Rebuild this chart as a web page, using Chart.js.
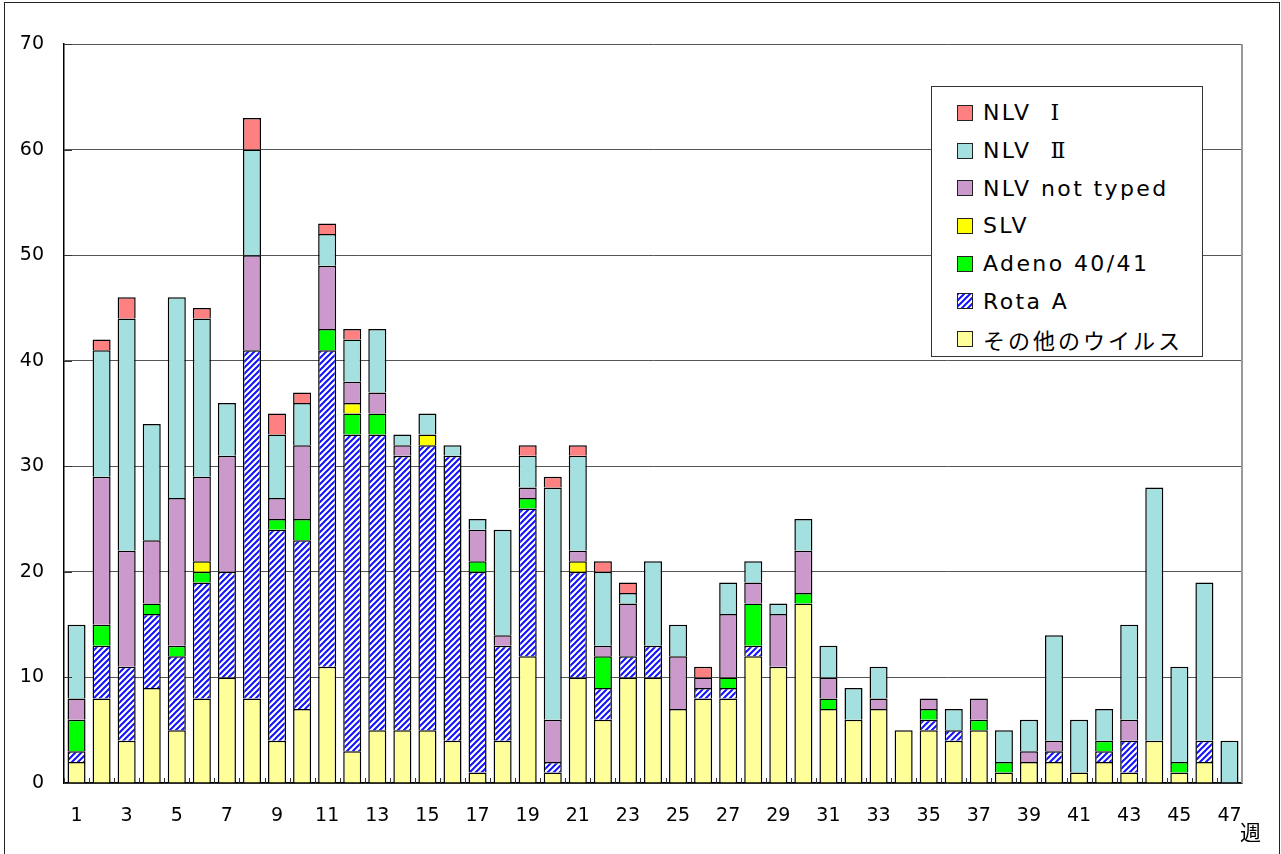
<!DOCTYPE html>
<html>
<head>
<meta charset="utf-8">
<script src="https://cdn.jsdelivr.net/npm/chart.js@4"></script>
<style>
  html, body { margin: 0; padding: 0; background: #fff; }
  #wrap { position: relative; width: 1281px; height: 854px; overflow: hidden; }
  #frame { position: absolute; left: 4px; top: 2px; width: 1276px; height: 880px; border: 1px solid #222; box-sizing: border-box; }
  #graph { position: absolute; left: 0; top: 0; }
  #legend { position: absolute; left: 931px; top: 86px; width: 272px; height: 271px; border: 1px solid #333;
            background: #fff; box-sizing: border-box; padding-top: 7px; }
  .row { height: 37.7px; display: flex; align-items: center; padding-left: 25px; }
  .sw { width: 14px; height: 14px; border: 1px solid #222; margin-right: 10px; flex: none; }
  .lbl { font: 22px "DejaVu Sans", sans-serif; letter-spacing: 2.4px; color: #000; white-space: nowrap; }
  .jp { font-family: "Noto Sans CJK JP", sans-serif; letter-spacing: 3px; }
  .num { font-family: "DejaVu Serif", serif; letter-spacing: 0; margin-left: 19px; }
  #unit { position: absolute; left: 1240px; top: 816px; font: 21px "Noto Sans CJK JP", sans-serif; color: #000; }
</style>
</head>
<body>
<div id="wrap">
  <div id="frame"></div>
  <canvas id="graph" width="1281" height="854"></canvas>
  <div id="legend"></div>
  <div id="unit">週</div>
</div>
<script>
// weeks 1..47
const weeks = ['1','2','3','4','5','6','7','8','9','10','11','12','13','14','15','16','17','18','19','20',
  '21','22','23','24','25','26','27','28','29','30','31','32','33','34','35','36','37','38','39','40',
  '41','42','43','44','45','46','47'];

const otherVirus = [2,8,4,9,5,8,10,8,4,7,11,3,5,5,5,4,1,4,12,1,10,6,10,10,7,8,8,12,11,17,7,6,7,5,5,4,5,1,2,2,1,2,1,4,1,2,0];
const rotaA      = [1,5,7,7,7,11,10,33,20,16,30,30,28,26,27,27,19,9,14,1,10,3,2,3,0,1,1,1,0,0,0,0,0,0,1,1,0,0,0,1,0,1,3,0,0,2,0];
const adeno      = [3,2,0,1,1,1,0,0,1,2,2,2,2,0,0,0,1,0,1,0,0,3,0,0,0,0,1,4,0,1,1,0,0,0,1,0,1,1,0,0,0,1,0,0,1,0,0];
const slv        = [0,0,0,0,0,1,0,0,0,0,0,1,0,0,1,0,0,0,0,0,1,0,0,0,0,0,0,0,0,0,0,0,0,0,0,0,0,0,0,0,0,0,0,0,0,0,0];
const nlvNotTyped= [2,14,11,6,14,8,11,9,2,7,6,2,2,1,0,0,3,1,1,4,1,1,5,0,5,1,6,2,5,4,2,0,1,0,1,0,2,0,1,1,0,0,2,0,0,0,0];
const nlv2       = [7,12,22,11,19,15,5,10,6,4,3,4,6,1,2,1,1,10,3,22,9,7,1,8,3,0,3,2,1,3,3,3,3,0,0,2,0,3,3,10,5,3,9,24,9,15,4];
const nlv1       = [0,1,2,0,0,1,0,3,2,1,1,1,0,0,0,0,0,0,1,1,1,1,1,0,0,1,0,0,0,0,0,0,0,0,0,0,0,0,0,0,0,0,0,0,0,0,0];

const yTicks = [0,10,20,30,40,50,60,70];

// blue diagonal hatch for Rota A
function makeHatch() {
  const c = document.createElement('canvas');
  c.width = 6; c.height = 6;
  const g = c.getContext('2d');
  g.fillStyle = '#fff';
  g.fillRect(0, 0, 6, 6);
  g.strokeStyle = '#1010ff';
  g.lineWidth = 2;
  g.beginPath();
  g.moveTo(0, 6); g.lineTo(6, 0);
  g.moveTo(-1, 1); g.lineTo(1, -1);
  g.moveTo(5, 7); g.lineTo(7, 5);
  g.stroke();
  return c;
}
const hatchTile = makeHatch();
const ctx = document.getElementById('graph').getContext('2d');
const hatch = ctx.createPattern(hatchTile, 'repeat');

const nz = arr => arr.map(v => v === 0 ? null : v);

function ds(label, data, color, swatch) {
  return {
    label: label,
    data: nz(data),
    backgroundColor: color,
    borderColor: '#000',
    borderWidth: 1.5,
    swatch: swatch || color
  };
}

// bottom to top of the stack
const datasets = [
  ds('その他のウイルス', otherVirus, '#ffff99'),
  ds('Rota A', rotaA, hatch, 'url(' + hatchTile.toDataURL() + ')'),
  ds('Adeno 40/41', adeno, '#00ff00'),
  ds('SLV', slv, '#ffff00'),
  ds('NLV not typed', nlvNotTyped, '#cc99cc'),
  ds('NLV Ⅱ', nlv2, '#a4e0e0'),
  ds('NLV Ⅰ', nlv1, '#ff8080')
];

const innerTicks = {
  id: 'innerTicks',
  afterDraw(chart) {
    const { ctx, chartArea: a, scales: { x, y } } = chart;
    ctx.save();
    ctx.strokeStyle = '#333';
    ctx.lineWidth = 1;
    ctx.beginPath();
    for (let i = 0; i <= weeks.length; i++) {
      const px = Math.round(x.getPixelForValue(i - 0.5)) + 0.5;
      ctx.moveTo(px, a.bottom);
      ctx.lineTo(px, a.bottom - 5);
    }
    yTicks.forEach(v => {
      const py = Math.round(y.getPixelForValue(v)) + 0.5;
      ctx.moveTo(a.left, py);
      ctx.lineTo(a.left + 8, py);
    });
    ctx.stroke();
    ctx.strokeStyle = '#999';
    ctx.lineWidth = 2;
    ctx.beginPath();
    ctx.moveTo(a.right, a.top);
    ctx.lineTo(a.right, a.bottom);
    ctx.stroke();
    ctx.restore();
  }
};

const chart = new Chart(ctx, {
  type: 'bar',
  data: { labels: weeks, datasets: datasets },
  options: {
    responsive: false,
    animation: false,
    devicePixelRatio: 1,
    layout: { padding: { left: 0, top: 44, right: 39, bottom: 0 } },
    datasets: { bar: { barPercentage: 0.72, categoryPercentage: 1 } },
    scales: {
      x: {
        stacked: true,
        grid: { display: false, drawTicks: false },
        border: { color: '#000', width: 1.5 },
        ticks: {
          autoSkip: false,
          maxRotation: 0,
          padding: 22,
          color: '#000',
          font: { family: 'DejaVu Sans', size: 19 },
          callback: (v, i) => (i % 2 === 0 ? weeks[i] : '')
        },
        afterFit: s => { s.height = 71; }
      },
      y: {
        stacked: true,
        min: 0,
        max: 70,
        grid: { color: '#555', drawTicks: false },
        border: { color: '#000', width: 1.5 },
        ticks: {
          stepSize: 10,
          padding: 20,
          color: '#000',
          font: { family: 'DejaVu Sans', size: 19 }
        },
        afterFit: s => { s.width = 64; }
      }
    },
    plugins: {
      legend: { display: false },
      tooltip: { enabled: false }
    }
  },
  plugins: [innerTicks]
});

// legend, top of the stack first
const legendBox = document.getElementById('legend');
datasets.slice().reverse().forEach(d => {
  const row = document.createElement('div');
  row.className = 'row';
  const sw = document.createElement('span');
  sw.className = 'sw';
  sw.style.background = d.swatch;
  const lbl = document.createElement('span');
  const isJp = /[\u3040-\u30ff\u4e00-\u9fff]/.test(d.label);
  lbl.className = 'lbl' + (isJp ? ' jp' : '');
  const m = d.label.match(/^(.*) ([\u2160-\u216b])$/);
  if (m) {
    lbl.appendChild(document.createTextNode(m[1]));
    const num = document.createElement('span');
    num.className = 'num';
    num.textContent = m[2];
    lbl.appendChild(num);
  } else {
    lbl.textContent = d.label;
  }
  row.appendChild(sw);
  row.appendChild(lbl);
  legendBox.appendChild(row);
});
</script>
</body>
</html>
